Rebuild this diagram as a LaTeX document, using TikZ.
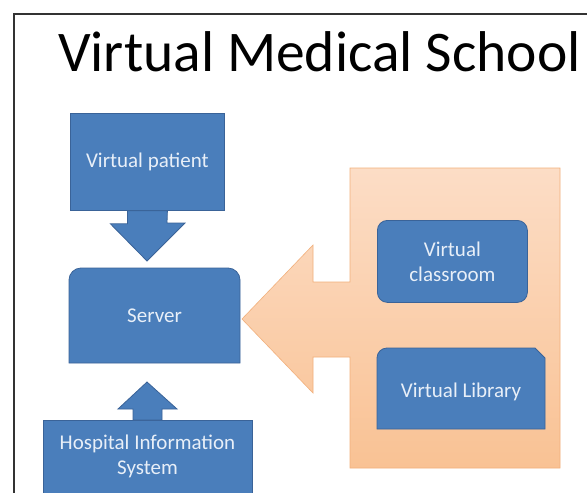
\documentclass[tikz,border=0pt]{standalone}
\usepackage{fontspec}
\setmainfont{Carlito}
\usetikzlibrary{calc}
\definecolor{boxblue}{HTML}{4A7EBB}
\definecolor{boxedge}{HTML}{3A6398}
\definecolor{boxtext}{HTML}{E8EFF8}
\definecolor{peachtop}{HTML}{FCDDC6}
\definecolor{peachbot}{HTML}{F9C294}
\definecolor{peachedge}{HTML}{F2B07C}
\tikzset{
  bluefill/.style={fill=boxblue,draw=boxedge,line width=0.8pt},
  boxlabel/.style={text=boxtext,font=\fontsize{21}{25}\selectfont,align=center,inner sep=0pt},
  plainbox/.style={bluefill,inner sep=0pt,anchor=north west},
}
\begin{document}
\begin{tikzpicture}[x=1pt,y=-1pt]
\useasboundingbox (0,0) rectangle (587,493);
\fill[white] (0,0) rectangle (587,493);
% frame
\draw[line width=1.4pt,draw=black!80] (14,493) -- (14,14) -- (587,14);
% title
\node[anchor=base west,inner sep=0pt,font=\fontsize{57.5}{60}\selectfont] (title) at (58,71) {Virtual Medical School};

% orange group with left arrow
\path[top color=peachtop,bottom color=peachbot,draw=peachedge,line width=0.6pt]
  (350,168) -- (560,168) -- (560,468) -- (350,468) -- (350,357) -- (313,357)
  -- (313,393) -- (242,319) -- (313,245) -- (313,282) -- (350,282) -- cycle;

% virtual patient
\node[plainbox,minimum width=154pt,minimum height=97pt] (vp) at (70,113) {};
\node[boxlabel] (vptext) at (vp.center) {Virtual patient};

% server (rounded top corners)
\coordinate (srvNW) at (69,268);
\coordinate (srvSE) at (240,363);
\path[bluefill] (69,363) -- (69,280) arc[start angle=180,end angle=270,radius=12] -- (228,268)
  arc[start angle=270,end angle=360,radius=12] -- (240,363) -- cycle;
\node[boxlabel] (server) at ($(srvNW)!0.5!(srvSE)$) {Server};

% down arrow virtual patient -> server
\path[bluefill] ($(vp.south)+(-20,0)$) -- ++(0,13) -- ++(-17,0) -- (147,261) -- (185,223) -- ++(-18,0) -- ($(vp.south)+(20,0)$) -- cycle;

% hospital information system
\node[plainbox,minimum width=209pt,minimum height=80pt] (his) at (43,420) {};
\node[boxlabel] (histext) at (147.5,456) {Hospital Information\\System};

% up arrow HIS -> server
\path[bluefill] (133,420) -- (133,409) -- (118,409) -- (147,382) -- (177,409) -- (162,409) -- (162,420) -- cycle;

% virtual classroom
\node[bluefill,rounded corners=10pt,minimum width=150pt,minimum height=82pt,anchor=north west,inner sep=0pt] (vc) at (377,220) {};
\node[boxlabel] (vctext) at (vc.center) {Virtual\\classroom};

% virtual library (rounded top-left, snipped top-right)
\coordinate (libNW) at (377,348);
\coordinate (libSE) at (545,429);
\path[bluefill] (377,429) -- (377,358) arc[start angle=180,end angle=270,radius=10] -- (535,348)
  -- (545,358) -- (545,429) -- cycle;
\node[boxlabel] (lib) at ($(libNW)!0.5!(libSE)+(0,3)$) {Virtual Library};
\end{tikzpicture}
\end{document}
